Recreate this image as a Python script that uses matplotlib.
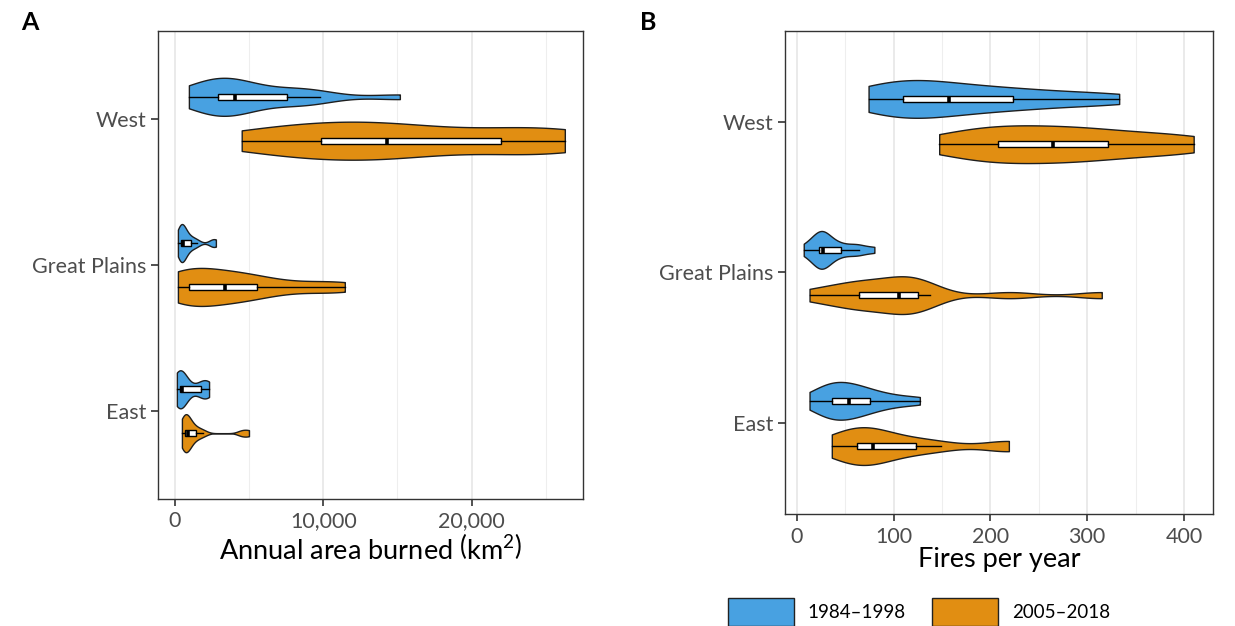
import matplotlib
matplotlib.use("Agg")
import matplotlib.pyplot as plt
from matplotlib.patches import Patch
from matplotlib.ticker import FuncFormatter, MultipleLocator
import numpy as np

plt.rcParams['font.family'] = ['Lato', 'DejaVu Sans']
plt.rcParams['mathtext.fontset'] = 'custom'
plt.rcParams['mathtext.rm'] = 'Lato'

regions = ["West", "Great Plains", "East"]
periods = ["1984\u20131998", "2005\u20132018"]
colors = ["#48A1E1", "#E18E12"]

# annual area burned (km2), one value per year
area_early = {
    "West": [940, 1500, 2300, 2800, 3000, 3300, 3700, 4040, 4500, 5200, 6900, 8200, 8800, 9770, 15160],
    "Great Plains": [200, 300, 350, 400, 420, 480, 520, 560, 650, 800, 1000, 1200, 1500, 2500, 2760],
    "East": [130, 200, 250, 300, 320, 350, 400, 470, 600, 900, 1600, 1900, 2000, 2200, 2300],
}
area_late = {
    "West": [4500, 6000, 8500, 9500, 11000, 12500, 13800, 14800, 16500, 19000, 23000, 24500, 25500, 26280],
    "Great Plains": [200, 500, 800, 900, 1100, 2000, 3000, 3700, 4200, 5000, 5700, 7500, 10000, 11450],
    "East": [470, 550, 620, 650, 700, 780, 850, 910, 1000, 1300, 1500, 1900, 4500, 4990],
}
# number of fires per year
fires_early = {
    "West": [74, 85, 100, 108, 112, 125, 140, 157, 170, 190, 215, 232, 260, 300, 333],
    "Great Plains": [7, 15, 20, 22, 24, 26, 27, 27, 30, 35, 42, 48, 60, 64, 80],
    "East": [13, 22, 30, 34, 38, 42, 48, 54, 58, 63, 72, 78, 90, 105, 127],
}
fires_late = {
    "West": [147, 170, 195, 205, 215, 240, 255, 275, 290, 310, 325, 360, 390, 410],
    "Great Plains": [13, 35, 55, 62, 72, 85, 100, 110, 115, 120, 127, 137, 220, 315],
    "East": [36, 42, 55, 60, 68, 72, 76, 82, 95, 110, 128, 149, 217, 219],
}


def nrd0(kde):
    # R's default bandwidth, as used by ggplot's geom_violin
    d = np.asarray(kde.dataset).ravel()
    sd = d.std(ddof=1)
    iqr = np.subtract(*np.percentile(d, [75, 25]))
    bw = 0.9 * min(sd, iqr / 1.34) * len(d) ** -0.2
    return bw / sd


def panel(ax, early, late, vwidth):
    for k, (data, col, off) in enumerate([(early, colors[0], -0.15), (late, colors[1], 0.15)]):
        pos = [i + 1 + off for i in range(len(regions))]
        vals = [data[r] for r in regions]
        vp = ax.violinplot(vals, positions=pos, orientation='horizontal', widths=vwidth,
                           showextrema=False, points=300, bw_method=nrd0)
        for b in vp['bodies']:
            b.set_facecolor(col)
            b.set_edgecolor('#1E1E1E')
            b.set_linewidth(1.0)
            b.set_alpha(1)
            b.set_zorder(2)
        ax.boxplot(vals, positions=pos, orientation='horizontal', widths=0.04,
                   patch_artist=True, showfliers=False, showcaps=False, whis=1.5,
                   boxprops=dict(facecolor='white', edgecolor='black', linewidth=1),
                   whiskerprops=dict(color='black', linewidth=1),
                   medianprops=dict(color='black', linewidth=2.6),
                   zorder=3, manage_ticks=False)
    ax.set_yticks(range(1, len(regions) + 1))
    ax.set_yticklabels(regions)
    ax.set_ylim(3.6, 0.4)
    ax.grid(axis='x', which='major', color='#E6E6E6', lw=1.2, zorder=0)
    ax.grid(axis='x', which='minor', color='#EEEEEE', lw=0.8, zorder=0)
    ax.grid(axis='y', visible=False)
    ax.set_axisbelow(True)
    for s in ax.spines.values():
        s.set_color('#333333')
        s.set_linewidth(1.0)
    ax.tick_params(axis='both', which='major', length=5, width=1.2, color='#333333',
                   labelcolor='#4D4D4D', labelsize=15.5)
    ax.tick_params(axis='x', which='minor', length=0)
    ax.tick_params(axis='x', pad=4)


fig = plt.figure(figsize=(12.35, 6.26), dpi=100)
axA = fig.add_axes([0.1279, 0.2029, 0.3441, 0.7476])
axB = fig.add_axes([0.6356, 0.1789, 0.3466, 0.7716])

panel(axA, area_early, area_late, 0.26)
axA.set_xlim(-1145, 27500)
axA.xaxis.set_major_locator(MultipleLocator(10000))
axA.xaxis.set_minor_locator(MultipleLocator(5000))
axA.xaxis.set_major_formatter(FuncFormatter(lambda v, p: f"{v:,.0f}"))
axA.set_xlabel(r"Annual area burned $\left(\mathrm{km}^2\right)$", fontsize=19.5, color='black', labelpad=2)

panel(axB, fires_early, fires_late, 0.25)
axB.set_xlim(-12.4, 430)
axB.xaxis.set_major_locator(MultipleLocator(100))
axB.xaxis.set_minor_locator(MultipleLocator(50))
axB.set_xlabel("Fires per year", fontsize=19.5, color='black', labelpad=0)

fig.text(30 / 1235, 1 - 22 / 626, "A", fontsize=18, fontweight='bold', ha='center', va='center')
fig.text(648 / 1235, 1 - 22 / 626, "B", fontsize=18, fontweight='bold', ha='center', va='center')

handles = [Patch(facecolor=c, edgecolor='#222222', linewidth=1) for c in colors]
fig.legend(handles, periods, loc='center', bbox_to_anchor=(919 / 1235, 1 - 612 / 626), ncol=2,
           frameon=False, fontsize=13.5, handlelength=3.5, handleheight=2.0,
           handletextpad=0.75, columnspacing=1.4, labelcolor='black')

fig.savefig("out.png", dpi=100)
